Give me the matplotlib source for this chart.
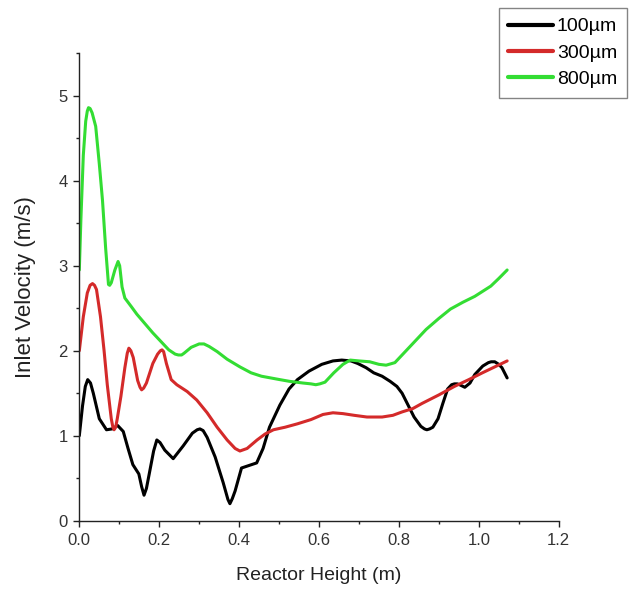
import matplotlib
matplotlib.use("Agg")
import matplotlib.pyplot as plt
from matplotlib.ticker import MultipleLocator

plt.rcParams['font.family'] = ['Liberation Sans', 'DejaVu Sans']

# 100 µm series
x100 = [0.0, 0.008, 0.015, 0.021, 0.028, 0.035, 0.050, 0.068, 0.082, 0.096, 0.110, 0.122, 0.134, 0.149,
        0.156, 0.162, 0.168, 0.175, 0.186, 0.194, 0.202, 0.214, 0.235, 0.260, 0.283, 0.295, 0.302,
        0.310, 0.320, 0.340, 0.360, 0.372, 0.377, 0.383, 0.390, 0.406, 0.425, 0.444, 0.460, 0.476,
        0.502, 0.525, 0.546, 0.575, 0.607, 0.635, 0.657, 0.680, 0.697, 0.718, 0.737, 0.758, 0.778,
        0.795, 0.808, 0.823, 0.838, 0.855, 0.864, 0.870, 0.877, 0.885, 0.898, 0.910, 0.922, 0.932,
        0.939, 0.946, 0.952, 0.965, 0.978, 0.990, 1.010, 1.024, 1.031, 1.040, 1.050, 1.058, 1.071]
y100 = [1.00, 1.35, 1.58, 1.66, 1.62, 1.50, 1.20, 1.07, 1.08, 1.12, 1.05, 0.85, 0.66, 0.55,
        0.40, 0.30, 0.38, 0.55, 0.82, 0.95, 0.92, 0.83, 0.73, 0.88, 1.03, 1.07, 1.08,
        1.06, 0.98, 0.75, 0.45, 0.25, 0.20, 0.26, 0.35, 0.62, 0.65, 0.68, 0.85, 1.10,
        1.36, 1.55, 1.66, 1.76, 1.84, 1.88, 1.89, 1.88, 1.85, 1.80, 1.74, 1.70, 1.64,
        1.58, 1.50, 1.36, 1.22, 1.11, 1.08, 1.07, 1.08, 1.10, 1.20, 1.38, 1.55, 1.60,
        1.61, 1.61, 1.60, 1.57, 1.62, 1.72, 1.82, 1.86, 1.87, 1.87, 1.84, 1.80, 1.68]

# 300 µm series
x300 = [0.0, 0.010, 0.020, 0.027, 0.033, 0.038, 0.043, 0.053, 0.062, 0.070, 0.080, 0.084, 0.087,
        0.091, 0.095, 0.104, 0.114, 0.120, 0.124, 0.129, 0.135, 0.146, 0.152, 0.156, 0.161, 0.168,
        0.184, 0.196, 0.203, 0.207, 0.211, 0.218, 0.230, 0.244, 0.270, 0.294, 0.320, 0.345, 0.370,
        0.390, 0.402, 0.420, 0.445, 0.465, 0.486, 0.515, 0.546, 0.580, 0.610, 0.635, 0.660, 0.688,
        0.720, 0.758, 0.785, 0.808, 0.835, 0.858, 0.900, 0.939, 0.975, 1.009, 1.040, 1.071]
y300 = [2.00, 2.40, 2.68, 2.77, 2.79, 2.77, 2.72, 2.40, 2.00, 1.60, 1.20, 1.10, 1.07,
        1.10, 1.20, 1.46, 1.80, 1.97, 2.03, 2.00, 1.92, 1.65, 1.57, 1.54, 1.56, 1.62,
        1.85, 1.96, 2.00, 2.01, 1.99, 1.85, 1.66, 1.60, 1.52, 1.42, 1.27, 1.10, 0.95,
        0.85, 0.82, 0.85, 0.95, 1.02, 1.07, 1.10, 1.14, 1.19, 1.25, 1.27, 1.26, 1.24,
        1.22, 1.22, 1.24, 1.28, 1.32, 1.38, 1.48, 1.58, 1.66, 1.74, 1.81, 1.88]

# 800 µm series
x800 = [0.0, 0.004, 0.010, 0.016, 0.020, 0.023, 0.027, 0.032, 0.041, 0.050, 0.058, 0.066, 0.071,
        0.073, 0.076, 0.080, 0.089, 0.097, 0.101, 0.107, 0.114, 0.130, 0.144, 0.164, 0.184, 0.204,
        0.224, 0.240, 0.248, 0.256, 0.262, 0.280, 0.300, 0.306, 0.312, 0.325, 0.345, 0.370, 0.402,
        0.430, 0.456, 0.502, 0.526, 0.560, 0.580, 0.592, 0.602, 0.615, 0.637, 0.660, 0.678, 0.700,
        0.727, 0.750, 0.768, 0.790, 0.808, 0.838, 0.868, 0.900, 0.929, 0.960, 0.990, 1.030, 1.050,
        1.071]
y800 = [2.95, 3.55, 4.30, 4.70, 4.82, 4.86, 4.85, 4.80, 4.64, 4.20, 3.77, 3.20, 2.90,
        2.78, 2.77, 2.80, 2.95, 3.05, 3.00, 2.75, 2.62, 2.52, 2.43, 2.32, 2.21, 2.11,
        2.01, 1.96, 1.95, 1.95, 1.97, 2.04, 2.08, 2.08, 2.08, 2.05, 1.99, 1.90, 1.81,
        1.74, 1.70, 1.66, 1.64, 1.62, 1.61, 1.60, 1.61, 1.63, 1.74, 1.84, 1.89, 1.88,
        1.87, 1.84, 1.83, 1.86, 1.95, 2.10, 2.25, 2.38, 2.49, 2.57, 2.64, 2.76, 2.85,
        2.95]

labels = ['100µm', '300µm', '800µm']
colors = ['#000000', '#d42a2a', '#33dd33']

fig = plt.figure(figsize=(6.3, 5.94), dpi=100)
ax = fig.add_axes([0.1259, 0.1234, 0.7609, 0.7869])

for xs, ys, lab, c in zip([x100, x300, x800], [y100, y300, y800], labels, colors):
    ax.plot(xs, ys, color=c, lw=2.2, label=lab, solid_joinstyle='round', solid_capstyle='round')

ax.set_xlim(0, 1.2)
ax.set_ylim(0, 5.5)
ax.xaxis.set_major_locator(MultipleLocator(0.2))
ax.xaxis.set_minor_locator(MultipleLocator(0.1))
ax.yaxis.set_major_locator(MultipleLocator(1))
ax.yaxis.set_minor_locator(MultipleLocator(0.5))
ax.xaxis.set_major_formatter(plt.FuncFormatter(lambda v, p: f"{v:.1f}"))
ax.yaxis.set_major_formatter(plt.FuncFormatter(lambda v, p: f"{v:.0f}"))

for s in ['top', 'right']:
    ax.spines[s].set_visible(False)
for s in ['left', 'bottom']:
    ax.spines[s].set_linewidth(1.0)
    ax.spines[s].set_color('#222222')

ax.tick_params(which='major', direction='out', length=4.5, width=1.0, labelsize=12,
               colors='#222222', labelcolor='#333333', pad=4)
ax.tick_params(which='minor', direction='out', length=2.5, width=1.0, colors='#222222')

ax.set_xlabel('Reactor Height (m)', fontsize=14, color='#222222', labelpad=14)
ax.set_ylabel('Inlet Velocity (m/s)', fontsize=16, color='#222222', labelpad=16)

leg = ax.legend(loc='upper right', bbox_to_anchor=(0.995, 0.9865), bbox_transform=fig.transFigure,
                borderaxespad=0, fancybox=False, frameon=True, fontsize=14,
                handlelength=2.3, handletextpad=0.2, labelspacing=0.45, borderpad=0.5)
leg.get_frame().set_edgecolor('#666666')
leg.get_frame().set_linewidth(1.0)
for line in leg.get_lines():
    line.set_linewidth(3.0)

fig.savefig('out.png', dpi=100)
